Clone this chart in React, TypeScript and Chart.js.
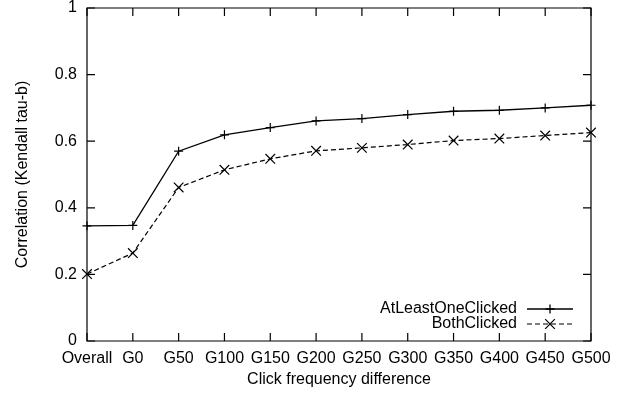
import React, { useEffect, useRef } from "react";
import { Chart, registerables } from "chart.js";

Chart.register(...registerables);

const categories = ["Overall", "G0", "G50", "G100", "G150", "G200", "G250", "G300", "G350", "G400", "G450", "G500"];
const atLeastOneClicked = [0.346, 0.347, 0.570, 0.619, 0.641, 0.661, 0.668, 0.680, 0.690, 0.693, 0.700, 0.708];
const bothClicked = [0.201, 0.264, 0.461, 0.514, 0.547, 0.571, 0.580, 0.590, 0.602, 0.608, 0.617, 0.626];
const seriesNames = ["AtLeastOneClicked", "BothClicked"];
const yTicks = [0, 0.2, 0.4, 0.6, 0.8, 1];

const FONT = "'Liberation Sans', Arial, Helvetica, sans-serif";
const FONT_SIZE = 16;
const TICK_LEN = 8;

const framePlugin = {
  id: "gnuplotFrame",
  afterDraw(chart: any) {
    const { ctx, chartArea } = chart;
    const { left, right, top, bottom } = chartArea;
    const xs = chart.scales.x;
    const ys = chart.scales.y;
    ctx.save();
    ctx.strokeStyle = "#000";
    ctx.lineWidth = 1.2;
    ctx.setLineDash([]);
    ctx.beginPath();
    ctx.rect(left, top, right - left, bottom - top);
    ctx.stroke();
    ctx.beginPath();
    categories.forEach((_, i) => {
      const px = xs.getPixelForValue(i);
      ctx.moveTo(px, bottom);
      ctx.lineTo(px, bottom - TICK_LEN);
      ctx.moveTo(px, top);
      ctx.lineTo(px, top + TICK_LEN);
    });
    yTicks.forEach((v) => {
      const py = ys.getPixelForValue(v);
      ctx.moveTo(left, py);
      ctx.lineTo(left + TICK_LEN, py);
      ctx.moveTo(right, py);
      ctx.lineTo(right - TICK_LEN, py);
    });
    ctx.stroke();

    // legend (inside, bottom right)
    ctx.font = `${FONT_SIZE}px ${FONT}`;
    ctx.fillStyle = "#000";
    ctx.textAlign = "right";
    ctx.textBaseline = "middle";
    const textRight = 517;
    const lineX0 = 527;
    const lineX1 = 573;
    const rows = [309, 324];
    chart.data.datasets.forEach((ds: any, i: number) => {
      const y = rows[i];
      ctx.fillText(seriesNames[i], textRight, y);
      ctx.save();
      ctx.lineWidth = ds.borderWidth;
      ctx.setLineDash(ds.borderDash || []);
      ctx.beginPath();
      ctx.moveTo(lineX0, y);
      ctx.lineTo(lineX1, y);
      ctx.stroke();
      ctx.setLineDash([]);
      const r = ds.pointRadius;
      ctx.beginPath();
      const cx = 550;
      if (ds.pointStyle === "cross") {
        ctx.moveTo(cx - r, y);
        ctx.lineTo(cx + r, y);
        ctx.moveTo(cx, y - r);
        ctx.lineTo(cx, y + r);
      } else {
        const o = r * Math.SQRT1_2;
        ctx.moveTo(cx - o, y - o);
        ctx.lineTo(cx + o, y + o);
        ctx.moveTo(cx - o, y + o);
        ctx.lineTo(cx + o, y - o);
      }
      ctx.stroke();
      ctx.restore();
    });
    ctx.restore();
  },
};

export default function App() {
  const canvasRef = useRef<HTMLCanvasElement | null>(null);

  useEffect(() => {
    document.body.style.margin = "0";
    const canvas = canvasRef.current;
    if (!canvas) return;
    const chart = new Chart(canvas, {
      type: "line",
      data: {
        labels: categories,
        datasets: [
          {
            label: seriesNames[0],
            data: atLeastOneClicked,
            borderColor: "#000",
            backgroundColor: "#000",
            borderWidth: 1.3,
            pointStyle: "cross",
            pointRadius: 4.5,
            pointBorderWidth: 1.2,
            pointBorderColor: "#000",
            tension: 0,
            fill: false,
            clip: false,
          },
          {
            label: seriesNames[1],
            data: bothClicked,
            borderColor: "#000",
            backgroundColor: "#000",
            borderWidth: 1.2,
            borderDash: [5, 3],
            pointStyle: "crossRot",
            pointRadius: 6.8,
            pointBorderWidth: 1.2,
            pointBorderColor: "#000",
            tension: 0,
            fill: false,
            clip: false,
          },
        ],
      },
      options: {
        animation: false,
        responsive: true,
        maintainAspectRatio: false,
        events: [],
        layout: { padding: { left: 0, right: 38, top: 5, bottom: 0 } },
        plugins: {
          legend: { display: false },
          tooltip: { enabled: false },
        },
        scales: {
          x: {
            type: "category",
            offset: false,
            grid: { display: false, drawTicks: false },
            border: { display: false },
            ticks: {
              autoSkip: false,
              maxRotation: 0,
              minRotation: 0,
              padding: 8,
              color: "#000",
              font: { family: FONT, size: FONT_SIZE },
            },
            title: {
              display: true,
              text: "Click frequency difference",
              color: "#000",
              font: { family: FONT, size: FONT_SIZE },
              padding: { top: 0, bottom: 5 },
            },
            afterFit: (s: any) => {
              s.height = 53;
              s.paddingLeft = 0;
              s.paddingRight = 0;
            },
          },
          y: {
            type: "linear",
            min: 0,
            max: 1,
            grid: { display: false, drawTicks: false },
            border: { display: false },
            ticks: {
              stepSize: 0.2,
              padding: 10,
              color: "#000",
              font: { family: FONT, size: FONT_SIZE },
              callback: (v: any) => String(Number(Number(v).toFixed(1))),
            },
            title: {
              display: true,
              text: "Correlation (Kendall tau-b)",
              color: "#000",
              font: { family: FONT, size: FONT_SIZE },
              padding: { top: 13, bottom: 0 },
            },
            afterFit: (s: any) => {
              s.width = 87;
              s.paddingTop = 0;
              s.paddingBottom = 0;
            },
          },
        },
      },
      plugins: [framePlugin],
    });
    return () => chart.destroy();
  }, []);

  return (
    <div style={{ position: "absolute", left: 0, top: 0, width: 629, height: 394 }}>
      <canvas ref={canvasRef} />
    </div>
  );
}
